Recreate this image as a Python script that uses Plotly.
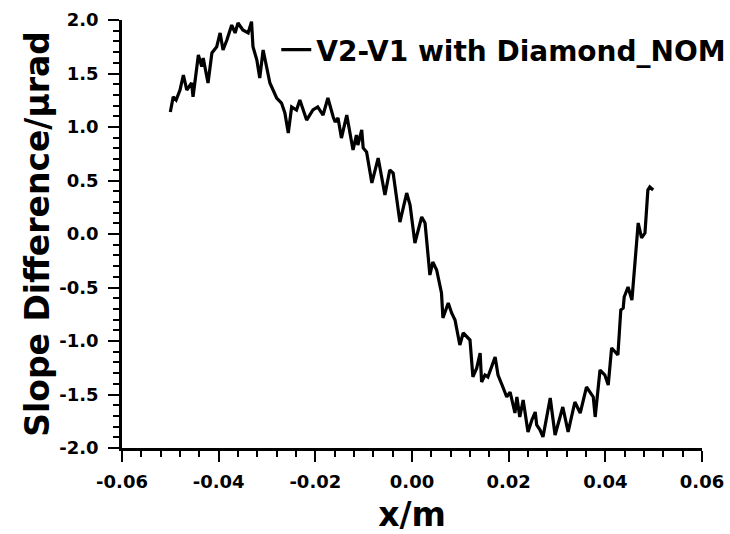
import plotly.graph_objects as go

x_m = [
    -0.0500, -0.0494, -0.0488, -0.0480, -0.0473, -0.0466, -0.0456, -0.0453,
    -0.0442, -0.0435, -0.0432, -0.0422, -0.0414, -0.0404, -0.0397, -0.0391,
    -0.0383, -0.0373, -0.0366, -0.0360, -0.0350, -0.0339, -0.0332, -0.0329,
    -0.0321, -0.0315, -0.0308, -0.0301, -0.0294, -0.0280, -0.0270, -0.0263,
    -0.0256, -0.0249, -0.0239, -0.0232, -0.0218, -0.0205, -0.0195, -0.0184,
    -0.0174, -0.0163, -0.0159, -0.0153, -0.0146, -0.0135, -0.0128, -0.0122,
    -0.0115, -0.0112, -0.0104, -0.0101, -0.0094, -0.0083, -0.0070, -0.0056,
    -0.0046, -0.0039, -0.0025, -0.0011, -0.0004, 0.0006, 0.0020, 0.0027,
    0.0037, 0.0043, 0.0051, 0.0061, 0.0064, 0.0075, 0.0082, 0.0089,
    0.0093, 0.0099, 0.0106, 0.0120, 0.0126, 0.0134, 0.0141, 0.0144,
    0.0151, 0.0157, 0.0172, 0.0178, 0.0188, 0.0196, 0.0203, 0.0213,
    0.0217, 0.0223, 0.0230, 0.0240, 0.0248, 0.0255, 0.0258, 0.0265,
    0.0271, 0.0279, 0.0286, 0.0296, 0.0312, 0.0323, 0.0337, 0.0348,
    0.0361, 0.0375, 0.0379, 0.0389, 0.0399, 0.0406, 0.0413, 0.0426,
    0.0432, 0.0437, 0.0439, 0.0447, 0.0455, 0.0468, 0.0475, 0.0482,
    0.0486, 0.0488, 0.0492, 0.0499,
]
slope_urad = [
    1.140, 1.283, 1.252, 1.346, 1.486, 1.346, 1.411, 1.283,
    1.673, 1.564, 1.645, 1.411, 1.692, 1.750, 1.879, 1.720,
    1.813, 1.953, 1.879, 1.972, 1.907, 1.879, 1.984, 1.750,
    1.626, 1.458, 1.720, 1.564, 1.411, 1.271, 1.224, 1.131,
    0.944, 1.187, 1.159, 1.252, 1.065, 1.159, 1.187, 1.112,
    1.271, 1.093, 1.047, 1.084, 0.897, 1.112, 0.944, 0.785,
    0.925, 0.832, 0.972, 0.804, 0.766, 0.477, 0.710, 0.364,
    0.598, 0.570, 0.112, 0.383, 0.271, -0.084, 0.159, 0.103,
    -0.383, -0.262, -0.336, -0.551, -0.785, -0.645, -0.738, -0.804,
    -0.897, -1.037, -0.925, -0.991, -1.336, -1.252, -1.112, -1.383,
    -1.318, -1.336, -1.150, -1.318, -1.430, -1.523, -1.477, -1.673,
    -1.523, -1.710, -1.551, -1.850, -1.738, -1.664, -1.785, -1.832,
    -1.897, -1.692, -1.533, -1.879, -1.617, -1.850, -1.570, -1.673,
    -1.430, -1.523, -1.710, -1.271, -1.318, -1.411, -1.065, -1.131,
    -0.710, -0.692, -0.589, -0.495, -0.617, 0.103, -0.037, 0.009,
    0.224, 0.411, 0.439, 0.411,
]
series_name = "V2-V1 with Diamond_NOM"
x_title = "x/m"
y_title = "Slope Difference/\u03bcrad"

x_tick_vals = [-0.06, -0.04, -0.02, 0.00, 0.02, 0.04, 0.06]
x_tick_text = ["-0.06", "-0.04", "-0.02", "0.00", "0.02", "0.04", "0.06"]
y_tick_vals = [-2.0, -1.5, -1.0, -0.5, 0.0, 0.5, 1.0, 1.5, 2.0]
y_tick_text = ["-2.0", "-1.5", "-1.0", "-0.5", "0.0", "0.5", "1.0", "1.5", "2.0"]

FONT = "DejaVu Sans"

fig = go.Figure()
fig.add_trace(go.Scatter(
    x=x_m, y=slope_urad, mode="lines", name=series_name,
    line=dict(color="black", width=3.2),
))

axis_common = dict(
    showgrid=False, zeroline=False, showline=True, linecolor="black",
    linewidth=2.5, ticks="outside", ticklen=11, tickwidth=2.2,
    tickcolor="black", mirror=False, automargin=False,
    tickfont=dict(family=FONT, size=18, color="black", weight="bold"),
)

fig.update_layout(
    width=730, height=534,
    margin=dict(l=122, r=28, t=20, b=86, autoexpand=False),
    paper_bgcolor="white", plot_bgcolor="white",
    showlegend=True,
    legend=dict(
        x=0.266, y=0.93, xanchor="left", yanchor="middle",
        bgcolor="rgba(0,0,0,0)", borderwidth=0,
        font=dict(family=FONT, size=28, color="black", weight="bold"),
    ),
    xaxis=dict(
        range=[-0.06, 0.06], tickmode="array",
        tickvals=x_tick_vals, ticktext=x_tick_text,
        ticklabelstandoff=5,
        minor=dict(ticks="outside", ticklen=6, tickwidth=2, tickcolor="black",
                   tickmode="linear", dtick=0.004, tick0=-0.06),
        title=dict(text=x_title, standoff=22,
                   font=dict(family=FONT, size=33, color="black", weight="bold")),
        **axis_common,
    ),
    yaxis=dict(
        range=[-2.0, 2.0], tickmode="array",
        tickvals=y_tick_vals, ticktext=y_tick_text,
        ticklabelstandoff=6,
        minor=dict(ticks="outside", ticklen=6, tickwidth=2, tickcolor="black",
                   tickmode="linear", dtick=0.1, tick0=-2.0),
        title=dict(text=y_title, standoff=0,
                   font=dict(family=FONT, size=33, color="black", weight="bold")),
        **axis_common,
    ),
)

# remove the default page margin so the figure fills the window exactly
fig.write_html(
    "out.html",
    config={"displayModeBar": False},
    post_script="document.body.style.margin='0';document.body.style.overflow='hidden';",
)
